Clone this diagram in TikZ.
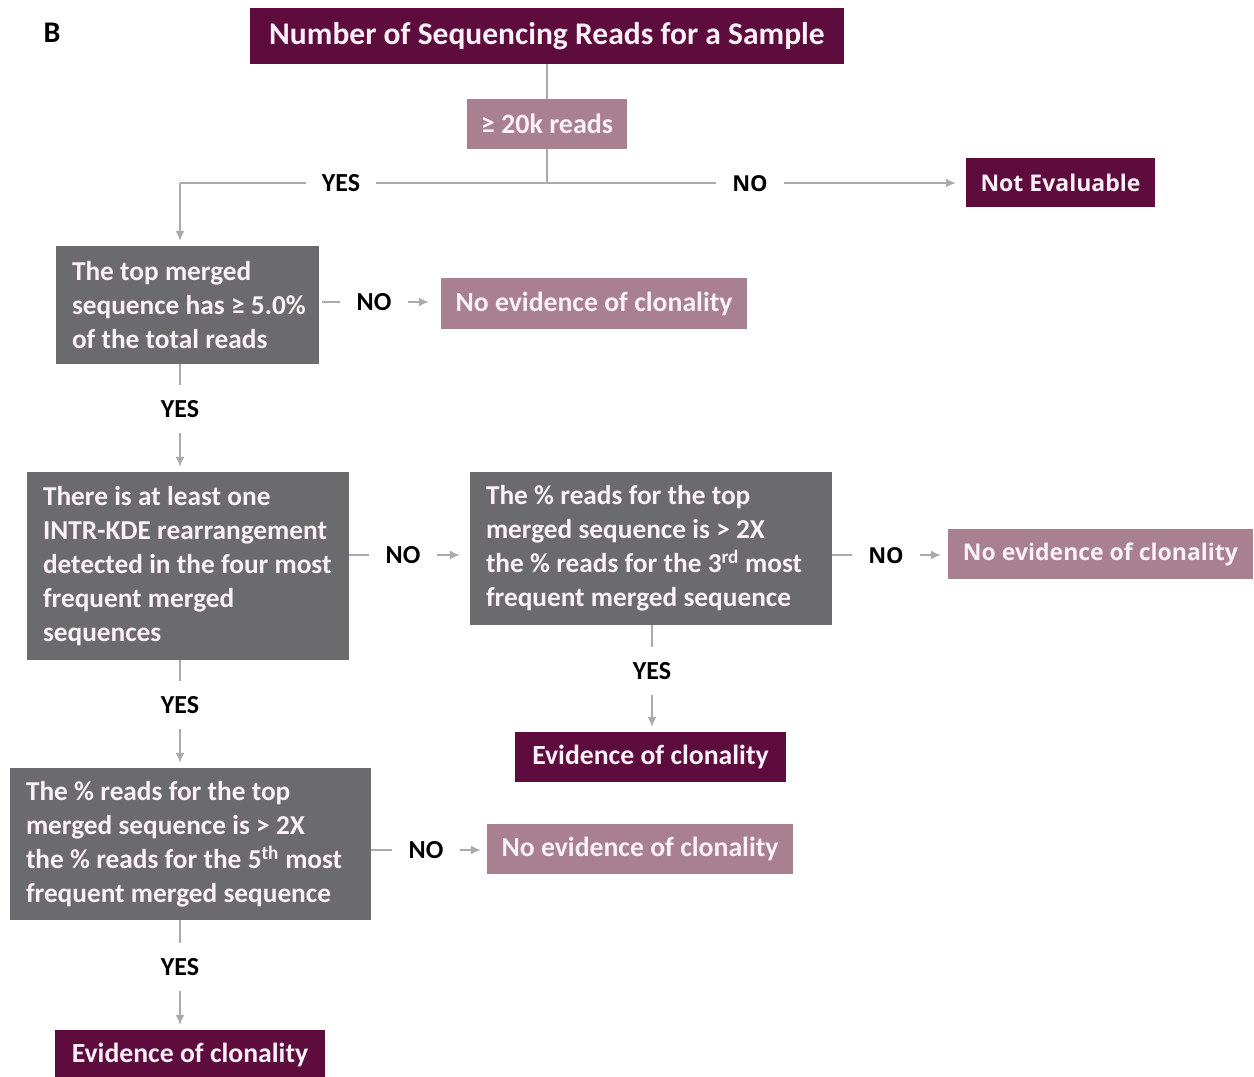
\documentclass[tikz,border=0pt]{standalone}
\usepackage{fontspec}
\setmainfont{Carlito}
\newfontfamily\osans{Open Sans}
\usetikzlibrary{arrows.meta,calc}
\definecolor{plum}{HTML}{5E0B3E}
\definecolor{mauve}{HTML}{A8808F}
\definecolor{slate}{HTML}{6B6B6E}
\definecolor{linegray}{HTML}{ABABAB}
\definecolor{boxtext}{HTML}{FBF1F7}
\newcommand{\bl}[1]{\mbox{\spaceskip=0.23em\relax #1}}
\begin{document}
\begin{tikzpicture}[x=1pt,y=-1pt,
 base/.style={inner sep=0pt, font=\bfseries\fontsize{27.7}{34}\selectfont, text=boxtext},
 os/.style={font=\osans\bfseries\fontsize{23}{30}\selectfont},
 darkbox/.style={base, fill=plum, minimum height=50pt},
 lightbox/.style={base, fill=mauve, minimum height=51pt},
 graybox/.style={base, fill=slate, align=left, inner xsep=16pt,
   font=\bfseries\fontsize{27.3}{34}\selectfont},
 lab/.style={font=\bfseries\fontsize{26}{30}\selectfont, text=black, inner xsep=16pt, inner ysep=15pt, text height=17pt, text depth=0pt},
 oslab/.style={lab, font=\osans\bfseries\fontsize{22}{30}\selectfont},
 cn/.style={draw=linegray, line width=1.5pt},
 arr/.style={cn, -{Latex[length=10pt,width=9pt]}, shorten >=10pt},
 varr/.style={cn, -{Latex[length=10pt,width=9pt]}, shorten >=5pt}
]
\useasboundingbox (0,0) rectangle (1254,1077);
\fill[white] (0,0) rectangle (1254,1077);

\node[font=\bfseries\fontsize{30}{34}\selectfont, inner sep=0pt] (lbl) at (52,33) {B};

\node[darkbox, minimum width=594pt, minimum height=56pt, font=\bfseries\fontsize{31.5}{38}\selectfont] (r0) at (547,36) {\bl{Number of Sequencing Reads for a Sample}};
\node[lightbox, minimum width=160pt, minimum height=50pt, font=\bfseries\fontsize{28}{34}\selectfont] (r1) at (547,124) {≥ 20k reads};
\coordinate (j) at (547,183);
\coordinate (cl) at (180,183);
\node[lab] (y0) at (341,183) {YES};
\node[oslab] (n0) at (750,183) {NO};
\node[darkbox, os, minimum width=189pt, minimum height=49pt] (ne) at (1060.5,182.5) {Not Evaluable};

\node[graybox, text width=231pt, minimum height=118pt] (q1) at (187.5,305) {\bl{The top merged}\\\bl{sequence has ≥ 5.0\%}\\\bl{of the total reads}};
\node[lab] (n1) at (374,302) {NO};
\node[lightbox, minimum width=306pt] (c1) at (594,303.5) {\bl{No evidence of clonality}};
\node[lab] (y1) at (180,409) {YES};

\node[graybox, text width=290pt, minimum height=188pt] (q2) at (188,566) {\bl{There is at least one}\\\bl{INTR-KDE rearrangement}\\\bl{detected in the four most}\\\bl{frequent merged}\\\bl{sequences}};
\node[lab] (n2) at (403,555) {NO};
\node[graybox, text width=330pt, minimum height=153pt] (q3) at (651,548.5) {\bl{The \% reads for the top}\\\bl{merged sequence is > 2X}\\\bl{the \% reads for the 3\textsuperscript{rd} most}\\\bl{frequent merged sequence}};
\node[oslab] (n3) at (886,555) {NO};
\node[lightbox, os, minimum width=305pt, minimum height=50pt] (c3) at (1100.5,554) {No evidence of clonality};
\node[lab] (y3) at (652,671) {YES};
\node[darkbox, minimum width=271pt] (e3) at (650.5,757) {\bl{Evidence of clonality}};

\node[lab] (y2) at (180,705) {YES};
\node[graybox, text width=329pt, minimum height=152pt] (q4) at (190.5,844) {\bl{The \% reads for the top}\\\bl{merged sequence is > 2X}\\\bl{the \% reads for the 5\textsuperscript{th} most}\\\bl{frequent merged sequence}};
\node[lab] (n4) at (426,850) {NO};
\node[lightbox, minimum width=306pt, minimum height=50pt] (c4) at (640,849) {\bl{No evidence of clonality}};
\node[lab] (y4) at (180,967) {YES};
\node[darkbox, minimum width=270pt, minimum height=50pt] (e4) at (190,1055) {\bl{Evidence of clonality}};

% connectors
\draw[cn] (r0) -- (r1);
\draw[cn] (r1) -- (j);
\draw[cn] (j) -- (y0);
\draw[cn] (j) -- (n0);
\draw[arr] (n0) -- (ne.west |- n0);
\draw[cn] (y0) -- (cl);
\draw[varr] (cl) -- (cl |- q1.north);

\draw[cn, shorten <=3pt] (q1.east |- n1) -- (n1);
\draw[arr, shorten >=12pt] (n1) -- (c1.west |- n1);
\draw[cn] (y1 |- q1.south) -- (y1);
\draw[varr] (y1) -- (y1 |- q2.north);

\draw[cn] (q2.east |- n2) -- (n2);
\draw[arr] (n2) -- (q3.west |- n2);
\draw[cn] (q3.east |- n3) -- (n3);
\draw[arr, shorten >=7pt] (n3) -- (c3.west |- n3);
\draw[cn] (y3 |- q3.south) -- (y3);
\draw[varr] (y3) -- (y3 |- e3.north);

\draw[cn] (y2 |- q2.south) -- (y2);
\draw[varr] (y2) -- (y2 |- q4.north);
\draw[cn] (q4.east |- n4) -- (n4);
\draw[arr, shorten >=6pt] (n4) -- (c4.west |- n4);
\draw[cn] (y4 |- q4.south) -- (y4);
\draw[varr] (y4) -- (y4 |- e4.north);
\end{tikzpicture}
\end{document}
